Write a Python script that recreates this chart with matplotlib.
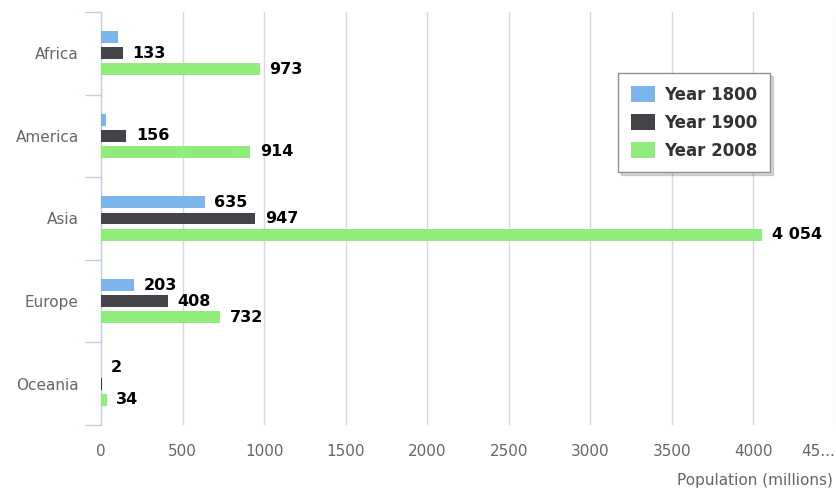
import matplotlib.pyplot as plt
import numpy as np
from matplotlib.ticker import FixedLocator

regions = ['Africa', 'America', 'Asia', 'Europe', 'Oceania']
years = ['Year 1800', 'Year 1900', 'Year 2008']
pop_1800 = [107, 31, 635, 203, 2]
pop_1900 = [133, 156, 947, 408, 6]
pop_2008 = [973, 914, 4054, 732, 34]
# labels hidden in the original (overlap handling)
show_1800 = [False, False, True, True, True]
show_1900 = [True, True, True, True, False]
show_2008 = [True, True, True, True, True]
colors = ['#7cb5ec', '#434348', '#90ed7d']
x_ticks = [0, 500, 1000, 1500, 2000, 2500, 3000, 3500, 4000, 4500]

fig = plt.figure(figsize=(8.36, 4.95), dpi=100)
ax = fig.add_axes([101 / 836, 1 - 425 / 495, 734 / 836, 413 / 495])

y = np.arange(len(regions))
off = 0.194
h = 0.145
series = [(pop_1800, show_1800), (pop_1900, show_1900), (pop_2008, show_2008)]
for i, (vals, show) in enumerate(series):
    pos = y + (i - 1) * off
    ax.barh(pos, vals, height=h, color=colors[i], label=years[i], zorder=3)
    for p, v, s in zip(pos, vals, show):
        if s:
            txt = f'{v:,}'.replace(',', ' ')
            ax.annotate(txt, (v, p), xytext=(7, 0), textcoords='offset points',
                        va='center', ha='left', fontsize=11.5, fontweight='bold',
                        color='black', zorder=4)

ax.set_xlim(0, 4500)
ax.set_ylim(4.5, -0.5)

ax.set_xticks(x_ticks)
ax.set_xticklabels([str(t) for t in x_ticks[:-1]] + ['45...'])
ax.get_xticklabels()[-1].set_ha('right')
ax.tick_params(axis='x', length=0, pad=14, labelsize=11, labelcolor='#666666')
ax.grid(axis='x', color='#d8d8d8', linewidth=1, zorder=0)

ax.set_yticks(y)
ax.set_yticklabels(regions)
ax.yaxis.set_minor_locator(FixedLocator(np.arange(-0.5, 5.0, 1.0)))
ax.tick_params(axis='y', which='major', length=0, pad=16, labelsize=11, labelcolor='#666666')
ax.tick_params(axis='y', which='minor', length=11.5, width=1, color='#c0d0e0')

for side in ['top', 'right', 'bottom']:
    ax.spines[side].set_visible(False)
ax.spines['left'].set_color('#c0d0e0')
ax.spines['left'].set_linewidth(1)

fig.text(833 / 836, 1 - 481 / 495, 'Population (millions)', ha='right', va='center',
         fontsize=11, color='#666666')

leg = ax.legend(loc='upper right', bbox_to_anchor=(770 / 836, 1 - 73 / 495),
                bbox_transform=fig.transFigure, fancybox=False, borderaxespad=0,
                shadow={'ox': 2, 'oy': -2, 'color': '#000000', 'alpha': 0.15},
                prop={'weight': 'bold', 'size': 12}, labelcolor='#333333',
                handlelength=1.45, handleheight=1.05, handletextpad=0.55,
                borderpad=0.75, labelspacing=0.6, framealpha=1)
leg.get_frame().set_edgecolor('#909090')
leg.get_frame().set_linewidth(1)

fig.savefig('out.png', dpi=100)
